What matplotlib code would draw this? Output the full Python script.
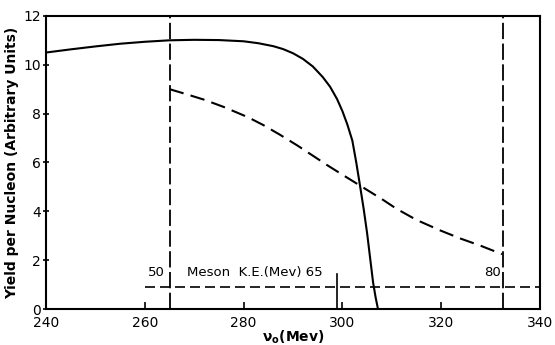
import numpy as np
import matplotlib
matplotlib.use("Agg")
from matplotlib import pyplot as plt

# solid curve (yield per nucleon)
solid_x = [240, 245, 250, 255, 260, 265, 270, 275, 280, 283, 286, 288, 290, 292, 294,
           296, 297.5, 298.9, 300, 301, 302, 302.8, 303.6, 304.3, 305, 305.6, 306.2,
           306.7, 307.2]
solid_y = [10.5, 10.63, 10.75, 10.86, 10.94, 11.0, 11.02, 11.01, 10.96, 10.88, 10.76,
           10.64, 10.47, 10.24, 9.93, 9.5, 9.1, 8.6, 8.1, 7.55, 6.9, 6.0, 5.0, 4.1,
           3.1, 2.1, 1.1, 0.5, 0.0]

# dashed curve
dash_x = [265, 268, 272, 276, 280.9, 284, 287.4, 291, 294, 297, 300, 304, 308, 311,
          315, 319.8, 324, 327.9, 332.3]
dash_y = [9.0, 8.82, 8.57, 8.27, 7.85, 7.53, 7.13, 6.68, 6.28, 5.88, 5.5, 5.0, 4.5,
          4.1, 3.65, 3.22, 2.88, 2.6, 2.25]

# meson K.E. scale
meson_y = 0.9
meson_x = [265, 299, 332.5]
meson_lbl = ["50", "65", "80"]

xticks = [240, 260, 280, 300, 320, 340]
yticks = [0, 2, 4, 6, 8, 10, 12]

fig = plt.figure(figsize=(5.55, 3.45), dpi=100)
ax = fig.add_axes([0.083, 0.104, 0.89, 0.85])

ax.plot(solid_x, solid_y, color="black", lw=1.5)
ax.plot(dash_x, dash_y, color="black", lw=1.5, dashes=(7, 3.5))

# vertical dashed limits
for xv in (265, 332.5):
    ax.plot([xv, xv], [0, 12], color="black", lw=1.3, dashes=(9, 2.5))

# meson scale line
ax.plot([260, 340], [meson_y, meson_y], color="black", lw=1.2, dashes=(6, 3))
ax.plot([meson_x[1], meson_x[1]], [0, 1.45], color="black", lw=1.2)
ax.text(264, 1.25, meson_lbl[0], ha="right", va="bottom", fontsize=9.5)
ax.text(268.5, 1.25, "Meson  K.E.(Mev) " + meson_lbl[1], ha="left", va="bottom", fontsize=9.5)
ax.text(332, 1.25, meson_lbl[2], ha="right", va="bottom", fontsize=9.5)

ax.set_xlim(240, 340)
ax.set_ylim(0, 12)
ax.set_xticks(xticks)
ax.set_yticks(yticks)
ax.tick_params(axis="x", direction="in", length=5, width=1.2, labelsize=10, pad=5)
ax.tick_params(axis="y", direction="inout", length=5, width=1.2, labelsize=10, pad=1)
for s in ax.spines.values():
    s.set_linewidth(1.5)

ax.set_xlabel(r"$\mathbf{\nu_o}$(Mev)", fontsize=10, fontweight="bold", labelpad=-1)
ax.set_ylabel("Yield per Nucleon (Arbitrary Units)", fontsize=10, fontweight="bold", labelpad=3)

fig.savefig("out.png", dpi=100)
